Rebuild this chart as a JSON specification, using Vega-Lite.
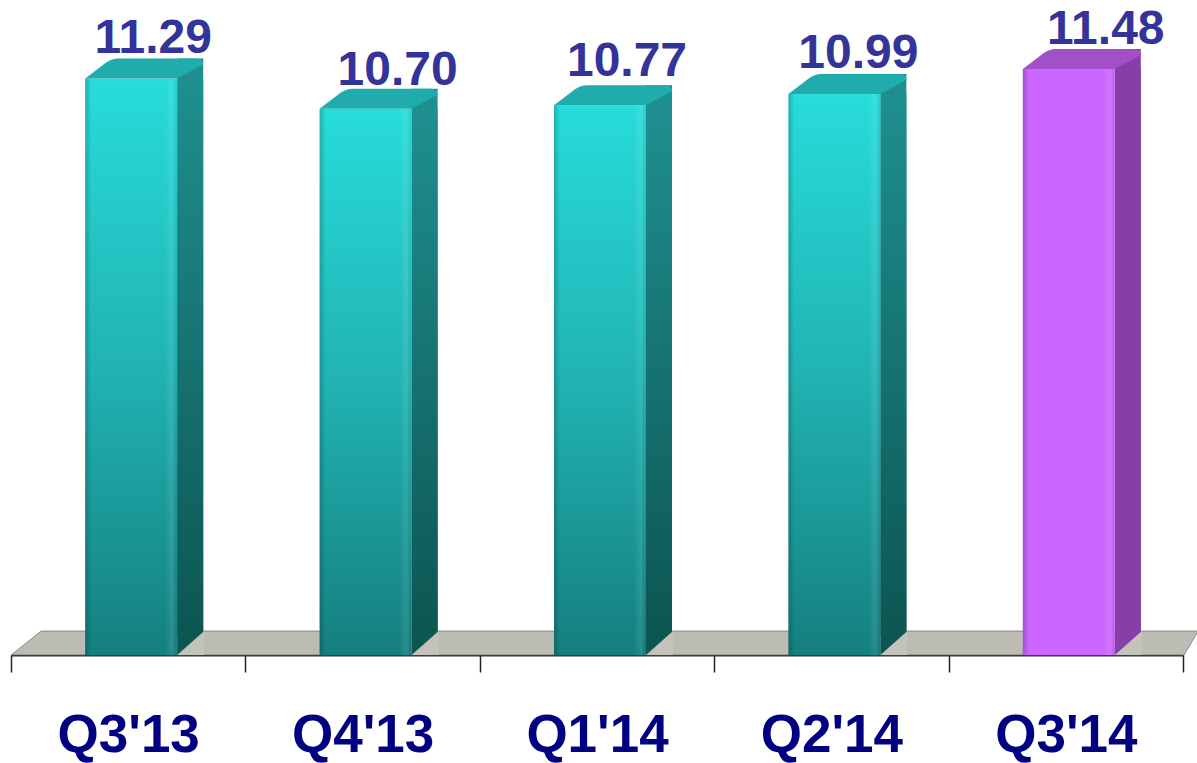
{"$schema":"https://vega.github.io/schema/vega-lite/v6.json","width":1172,"height":655,"autosize":"none","padding":{"left":11,"right":14,"top":0,"bottom":108},"background":"white","config":{"view":{"stroke":null}},
"data":{"values":[{"quarter":"Q3'13","value":11.29,"group":"past"},{"quarter":"Q4'13","value":10.70,"group":"past"},{"quarter":"Q1'14","value":10.77,"group":"past"},{"quarter":"Q2'14","value":10.99,"group":"past"},{"quarter":"Q3'14","value":11.48,"group":"current"}]},
"encoding":{"x":{"field":"quarter","type":"nominal","sort":null,"scale":{"paddingInner":0,"paddingOuter":0},"title":null,"axis":{"labelAngle":0,"labelFont":"Liberation Sans","labelFontWeight":"bold","labelFontSize":53,"labelColor":"#000080","labelPadding":79,"labelOverlap":false,"labelBound":false,"labelFlush":false,"labelBaseline":"alphabetic","tickBand":"extent","tickSize":17,"tickColor":"#222222","tickWidth":1.5,"domainColor":"#333333","domainWidth":2,"grid":false}},
"y":{"field":"value","type":"quantitative","scale":{"domain":[0,12.83],"nice":false},"axis":null}},
"layer":[
{"transform":[{"filter":"datum.quarter === \"Q3'13\""}],"mark":{"type":"point","filled":true,"size":4,"opacity":1,"fill":"#bcbbb4","stroke":"#555555","strokeWidth":0.6,"shape":"M-117,0 L-87,-24 L1070,-24 L1056,0 Z"},"encoding":{"y":{"datum":0}}},
{"transform":[{"filter":"datum.group === 'past'"}],"mark":{"type":"bar","width":26,"xOffset":62,"yOffset":-20,"color":{"x1":0,"y1":0,"x2":0,"y2":1,"gradient":"linear","stops":[{"offset":0,"color":"#1f8f8f"},{"offset":1,"color":"#0c5450"}]}}},
{"transform":[{"filter":"datum.group === 'past'"}],"mark":{"type":"bar","width":26,"xOffset":62,"color":{"x1":0,"y1":0,"x2":0,"y2":1,"gradient":"linear","stops":[{"offset":0,"color":"#1f8f8f"},{"offset":1,"color":"#0c5450"}]}}},
{"transform":[{"filter":"datum.group === 'current'"}],"mark":{"type":"bar","width":26,"xOffset":62,"yOffset":-20,"color":"#853fa6"}},
{"transform":[{"filter":"datum.group === 'current'"}],"mark":{"type":"bar","width":26,"xOffset":62,"color":"#853fa6"}},
{"mark":{"type":"point","filled":true,"size":4,"opacity":1,"fill":"#c4c3bb","strokeWidth":0,"shape":"M49,0 L76,0 L76,-24 Z"},"encoding":{"y":{"datum":0}}},
{"transform":[{"filter":"datum.group === 'past'"}],"mark":{"type":"bar","width":92,"xOffset":3,"color":{"x1":0,"y1":0,"x2":0,"y2":1,"gradient":"linear","stops":[{"offset":0,"color":"#27dcda"},{"offset":0.5,"color":"#21b3b3"},{"offset":1,"color":"#157f7f"}]}}},
{"transform":[{"filter":"datum.group === 'current'"}],"mark":{"type":"bar","width":92,"xOffset":3,"color":"#cb66ff"}},
{"mark":{"type":"bar","width":6,"xOffset":-40,"color":{"x1":0,"y1":0,"x2":1,"y2":0,"gradient":"linear","stops":[{"offset":0,"color":"rgba(0,0,0,0.2)"},{"offset":1,"color":"rgba(0,0,0,0)"}]}}},
{"mark":{"type":"bar","width":12,"xOffset":43,"color":{"x1":0,"y1":0,"x2":1,"y2":0,"gradient":"linear","stops":[{"offset":0,"color":"rgba(255,255,255,0)"},{"offset":0.6,"color":"rgba(255,255,255,0.1)"},{"offset":1,"color":"rgba(0,0,0,0.03)"}]}}},
{"transform":[{"filter":"datum.group === 'past'"}],"mark":{"type":"point","filled":true,"size":4,"opacity":1,"fill":"#20abac","strokeWidth":0,"shape":"M-43,0 L-22,-16 Q-16,-20 -10,-20 L68,-20 Q75,-20 75,-14 L49,0 Z"}},
{"transform":[{"filter":"datum.group === 'current'"}],"mark":{"type":"point","filled":true,"size":4,"opacity":1,"fill":"#a24fca","strokeWidth":0,"shape":"M-43,0 L-22,-16 Q-16,-20 -10,-20 L68,-20 Q75,-20 75,-14 L49,0 Z"}},
{"transform":[{"filter":"datum.quarter === \"Q3'13\""}],"mark":{"type":"text","font":"Liberation Sans","fontWeight":"bold","fontSize":48,"color":"#333399","dx":25,"dy":-26,"baseline":"alphabetic","align":"center"},"encoding":{"text":{"field":"value","type":"quantitative","format":".2f"}}},
{"transform":[{"filter":"datum.quarter === \"Q4'13\""}],"mark":{"type":"text","font":"Liberation Sans","fontWeight":"bold","fontSize":48,"color":"#333399","dx":35,"dy":-24,"baseline":"alphabetic","align":"center"},"encoding":{"text":{"field":"value","type":"quantitative","format":".2f"}}},
{"transform":[{"filter":"datum.quarter === \"Q1'14\""}],"mark":{"type":"text","font":"Liberation Sans","fontWeight":"bold","fontSize":48,"color":"#333399","dx":30,"dy":-29,"baseline":"alphabetic","align":"center"},"encoding":{"text":{"field":"value","type":"quantitative","format":".2f"}}},
{"transform":[{"filter":"datum.quarter === \"Q2'14\""}],"mark":{"type":"text","font":"Liberation Sans","fontWeight":"bold","fontSize":48,"color":"#333399","dx":27,"dy":-26,"baseline":"alphabetic","align":"center"},"encoding":{"text":{"field":"value","type":"quantitative","format":".2f"}}},
{"transform":[{"filter":"datum.quarter === \"Q3'14\""}],"mark":{"type":"text","font":"Liberation Sans","fontWeight":"bold","fontSize":48,"color":"#333399","dx":40,"dy":-25,"baseline":"alphabetic","align":"center"},"encoding":{"text":{"field":"value","type":"quantitative","format":".2f"}}}
]}
